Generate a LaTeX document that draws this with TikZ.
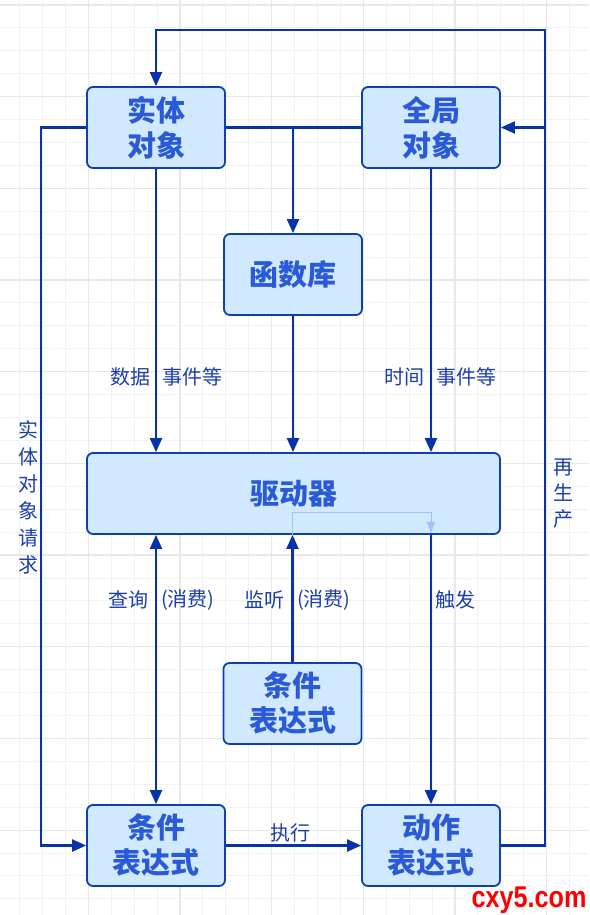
\documentclass[tikz,border=0pt]{standalone}
\usepackage{fontspec}
\setmainfont{Noto Sans CJK SC}
\newfontfamily\markfont{Liberation Sans}
\usetikzlibrary{arrows.meta}

\definecolor{gridminor}{RGB}{242,242,242}
\definecolor{gridmajor}{RGB}{232,232,232}
\definecolor{boxfill}{RGB}{208,233,255}
\definecolor{boxline}{RGB}{16,64,176}
\definecolor{boxtext}{RGB}{43,90,216}
\definecolor{linkcol}{RGB}{8,50,170}
\definecolor{lbltext}{RGB}{28,62,170}
\definecolor{faintcol}{RGB}{165,190,255}
\definecolor{markred}{RGB}{255,0,0}

\tikzset{
	block/.style={draw=boxline, line width=1.8pt, fill=boxfill, rounded corners=6pt,
		minimum width=138pt, minimum height=81pt, inner sep=0pt, align=center,
		text=boxtext, font=\fontsize{29}{35}\selectfont\bfseries},
	link/.style={draw=linkcol, line width=2.2pt},
	tip/.style={Triangle[length=14pt 0,width=12pt 0]},
	arr/.style={link, -{Triangle[length=14pt 0,width=12pt 0]}},
	lbl/.style={text=lbltext, inner sep=0pt, font=\fontsize{20}{27}\selectfont},
}

\begin{document}
\begin{tikzpicture}[x=1pt,y=-1pt]
		\useasboundingbox (0,0) rectangle (589,915);
		\fill[white] (0,0) rectangle (589,915);
		% grid
		\foreach \i in {0,...,26}
		{
			\draw[gridminor, line width=1pt] ({-3.4+22.92*\i},0) -- ({-3.4+22.92*\i},915);
		}
		\foreach \j in {0,...,40}
		{
			\draw[gridminor, line width=1pt] (0,{5+22.92*\j}) -- (589,{5+22.92*\j});
		}
		\foreach \i in {0,...,6}
		{
			\draw[gridmajor, line width=1.2pt] ({-3.4+91.68*\i},0) -- ({-3.4+91.68*\i},915);
		}
		\foreach \j in {0,...,9}
		{
			\draw[gridmajor, line width=1.2pt] (0,{5+91.68*\j}) -- (589,{5+91.68*\j});
		}
		% blocks
		\node[block] (ent) at (156,127.5) {实体\\对象};
		\node[block] (glob) at (431,127.5) {全局\\对象};
		\node[block] (lib) at (293,274.5) {函数库};
		\node[block, minimum width=413pt] (drv) at (293.5,493.5) {驱动器};
		\node[block] (cond) at (292.5,703.5) {条件\\表达式};
		\node[block] (cexp) at (156,845.5) {条件\\表达式};
		\node[block] (act) at (431,845.5) {动作\\表达式};
		\coordinate (loopR) at (545,30);
		\coordinate (reqL) at (41,127.5);
		% regeneration loop
		\draw[arr] (act.east) -| (loopR) -| (ent.north);
		\draw[arr] (loopR |- glob.east) -- (glob.east);
		% entity request
		\draw[arr] (ent.west) -- (reqL) |- (cexp.west);
		% entity to global, function library
		\draw[link] (ent.east) -- (glob.west);
		\draw[arr] (lib.north |- ent.east) -- (lib.north);
		% into driver
		\draw[arr] (ent.south) -- (ent.south |- drv.north);
		\draw[arr] (lib.south) -- (lib.south |- drv.north);
		\draw[arr] (glob.south) -- (glob.south |- drv.north);
		% out of driver
		\draw[link, {Triangle[length=14pt 0,width=12pt 0]}-{Triangle[length=14pt 0,width=12pt 0]}] (cexp.north |- drv.south) -- (cexp.north);
		\draw[arr] (cond.north) -- (cond.north |- drv.south);
		\draw[arr] (act.north |- drv.south) -- (act.north);
		\draw[arr] (cexp.east) -- (act.west);
		\draw[faintcol, line width=1pt, -{Triangle[length=11pt 0,width=8pt 0]}] (cond.north |- drv.south) -- ++(0,-22) -| ([yshift=2pt]act.north |- drv.south);
		% labels
		\node[lbl, anchor=east] (qData) at (151,377) {数据};
		\node[lbl, anchor=west] (qEvtA) at (162,377) {事件等};
		\node[lbl, anchor=east] (qTime) at (425,377) {时间};
		\node[lbl, anchor=west] (qEvtB) at (436,377) {事件等};
		\node[lbl, anchor=east] (qQuery) at (149,600) {查询};
		\node[lbl, anchor=west] (qUseA) at (161,600) {(消费)};
		\node[lbl, anchor=east] (qListen) at (285,600) {监听};
		\node[lbl, anchor=west] (qUseB) at (297,600) {(消费)};
		\node[lbl, anchor=west] (qFire) at (435,600) {触发};
		\node[lbl] (qExec) at (290,833) {执行};
		\node[lbl, align=center] (qReq) at (28,497) {实\\体\\对\\象\\请\\求};
		\node[lbl, align=center, font=\fontsize{20}{26}\selectfont] (qRegen) at (563,494) {再\\生\\产};
		\node[text=markred, inner sep=0pt, anchor=base, xscale=0.84, font=\markfont\bfseries\fontsize{30}{30}\selectfont] (mark) at (529,907) {cxy5.com};
\end{tikzpicture}
\end{document}
